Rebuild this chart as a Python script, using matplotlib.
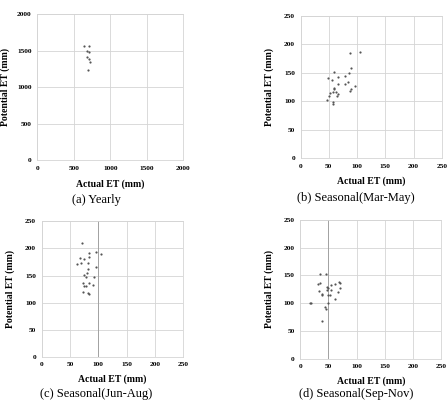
import matplotlib
matplotlib.use("Agg")
import matplotlib.pyplot as plt

plt.rcParams['font.family'] = ['Liberation Serif', 'DejaVu Serif']

# (a) yearly
yearly_actual = [644, 712, 685, 703, 685, 703, 721, 699]
yearly_potential = [1570, 1570, 1497, 1483, 1410, 1391, 1345, 1236]

# (b) Mar-May
mam_actual = [48, 55.5, 59.6, 66.7, 78, 85, 88, 106, 89, 66.7, 78, 84.4, 59.6, 59.6,
              88.5, 88, 97, 52, 57, 62, 65.5, 63.7, 50.7, 46.6, 57, 57]
mam_potential = [140, 138, 151, 142, 144, 150, 184, 186, 158, 131, 130, 134, 124, 122,
                 121, 118.5, 127, 115, 116, 117, 113, 109, 110, 102, 99, 96]

# (c) Jun-Aug
jja_actual = [71.8, 67.6, 75.2, 84, 95.8, 104.7, 83, 69.4, 61.8, 82.3, 82.3, 96.4,
              80.6, 75.2, 78, 91.7, 83, 73.5, 74.7, 78, 90, 73.5, 81.5, 83]
jja_potential = [210, 183, 181, 191.6, 193, 190, 184, 174, 172, 173, 162, 165,
                 155, 151, 147, 147, 137, 136, 131, 130, 132, 120, 118, 115.5]

# (d) Sep-Nov
son_actual = [45, 36, 31, 36, 34, 38, 39, 46.7, 49.6, 53.8, 46.7, 53.8, 49, 52.6,
              62, 68.6, 71, 69.8, 67.4, 61.5, 49.6, 19.5, 17, 43.7, 45, 39]
son_potential = [153, 152, 134, 137, 122, 116, 115, 130, 128, 132, 124, 123, 115, 115,
                 134, 138, 136, 127, 121, 107, 101, 100, 100, 94, 90, 68]

captions = ['(a) Yearly', '(b) Seasonal(Mar-May)', '(c) Seasonal(Jun-Aug)', '(d) Seasonal(Sep-Nov)']
yearly_ticks = [0, 500, 1000, 1500, 2000]
season_ticks = [0, 50, 100, 150, 200, 250]

panels = [
    (yearly_actual, yearly_potential, yearly_ticks, [0.083, 0.601, 0.326, 0.363], None, (0.216, 0.501)),
    (mam_actual, mam_potential, season_ticks, [0.671, 0.605, 0.315, 0.356], None, (0.794, 0.507)),
    (jja_actual, jja_potential, season_ticks, [0.093, 0.110, 0.316, 0.338], 100, (0.214, 0.017)),
    (son_actual, son_potential, season_ticks, [0.670, 0.105, 0.315, 0.347], 50, (0.794, 0.017)),
]

fig = plt.figure(figsize=(4.48, 4.01), dpi=100)

for (x, y, ticks, rect, dark_x, cap_pos), caption in zip(panels, captions):
    ax = fig.add_axes(rect)
    ax.scatter(x, y, s=2.5, color='#555555', linewidths=0, zorder=3)
    ax.set_xlim(ticks[0], ticks[-1])
    ax.set_ylim(ticks[0], ticks[-1])
    ax.set_xticks(ticks)
    ax.set_yticks(ticks)
    ax.grid(True, color='#d4d4d4', linewidth=0.6)
    if dark_x is not None:
        # one gridline shows up darker in the source figure
        ax.axvline(dark_x, color='#999999', linewidth=0.6, zorder=2)
    for s in ax.spines.values():
        s.set_color('#d4d4d4')
        s.set_linewidth(0.6)
    ax.tick_params(length=0, labelsize=5.3, pad=4)
    for lbl in ax.get_xticklabels() + ax.get_yticklabels():
        lbl.set_fontweight('bold')
    ax.set_xlabel('Actual ET (mm)', fontsize=7, fontweight='bold', va='center')
    ax.set_ylabel('Potential ET (mm)', fontsize=7, fontweight='bold', va='center')
    ax.xaxis.set_label_coords(0.5, -0.163)
    ax.yaxis.set_label_coords(-0.222, 0.5)
    fig.text(cap_pos[0], cap_pos[1], caption, ha='center', va='center', fontsize=9)

fig.savefig('out.png', dpi=100)
